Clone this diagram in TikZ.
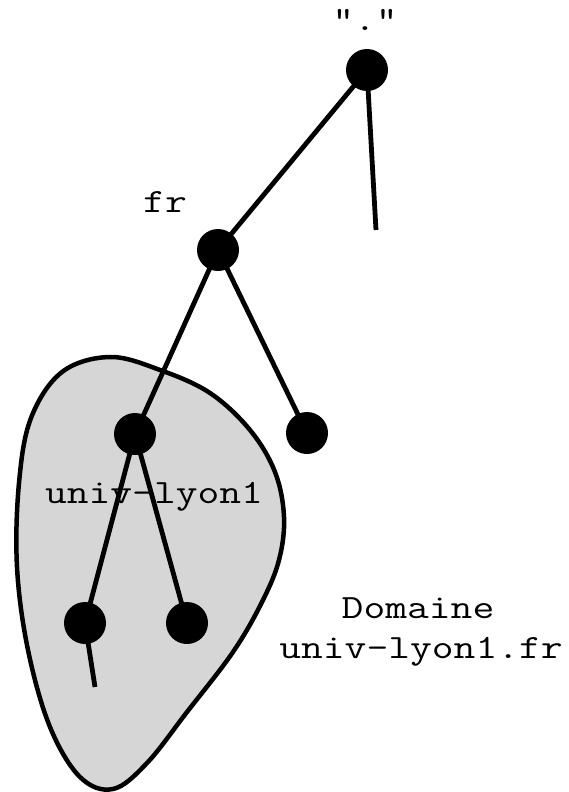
\documentclass[tikz,border=0pt]{standalone}
\newcommand{\cour}[1]{\scalebox{1.245}[1]{\ttfamily\fontsize{34}{40}\selectfont #1}}
\begin{document}
\begin{tikzpicture}[x=1pt,y=-1pt,
  dot/.style={circle,fill=black,inner sep=0pt,minimum size=42pt},
  lbl/.style={anchor=base,inner sep=0pt},
  edge/.style={line width=4.8pt}]
\useasboundingbox (0,0) rectangle (569,792);
% blob
\draw[line width=4.5pt,fill={rgb,255:red,214;green,214;blue,214}]
  plot[smooth cycle,tension=0.6] coordinates {
  (110,357) (160,370) (210,393) (250,430) (275,472) (284,517) (279,560)
  (262,602) (233,652) (187,712) (147,763) (113,789) (80,777) (50,727)
  (28,650) (17,567) (19,483) (31,418) (62,372)};
% coordinates
\coordinate (root) at (367,70);
\coordinate (fr) at (218,250);
\coordinate (frr) at (307,433);
\coordinate (ul) at (135,434);
\coordinate (ll) at (85,623);
\coordinate (lr) at (187,623);
\coordinate (rootend) at (376,230);
\coordinate (llend) at (95,687);
% edges
\draw[edge] (root) -- (fr);
\draw[edge] (root) -- (rootend);
\draw[edge] (fr) -- (ul);
\draw[edge] (fr) -- (frr);
\draw[edge] (ll) -- (llend);
% nodes
\node[dot] (nroot) at (root) {};
\node[dot] (nfr) at (fr) {};
\node[dot] (nfrr) at (frr) {};
\node[dot] (nll) at (ll) {};
\node[dot] (nlr) at (lr) {};
% labels
\node[lbl] (tdot) at (365,31) {\cour{"."}};
\node[lbl] (tfr) at (165,212) {\cour{fr}};
\node[lbl] (tul) at (154,503) {\cour{univ-lyon1}};
\node[lbl] (tdom) at (418,618) {\cour{Domaine}};
\node[lbl] (tdomn) at (421,658) {\cour{univ-lyon1.fr}};
% edges over label univ-lyon1
\draw[edge] (ul) -- (ll);
\draw[edge] (ul) -- (lr);
\node[dot] (nul) at (ul) {};
\end{tikzpicture}
\end{document}
